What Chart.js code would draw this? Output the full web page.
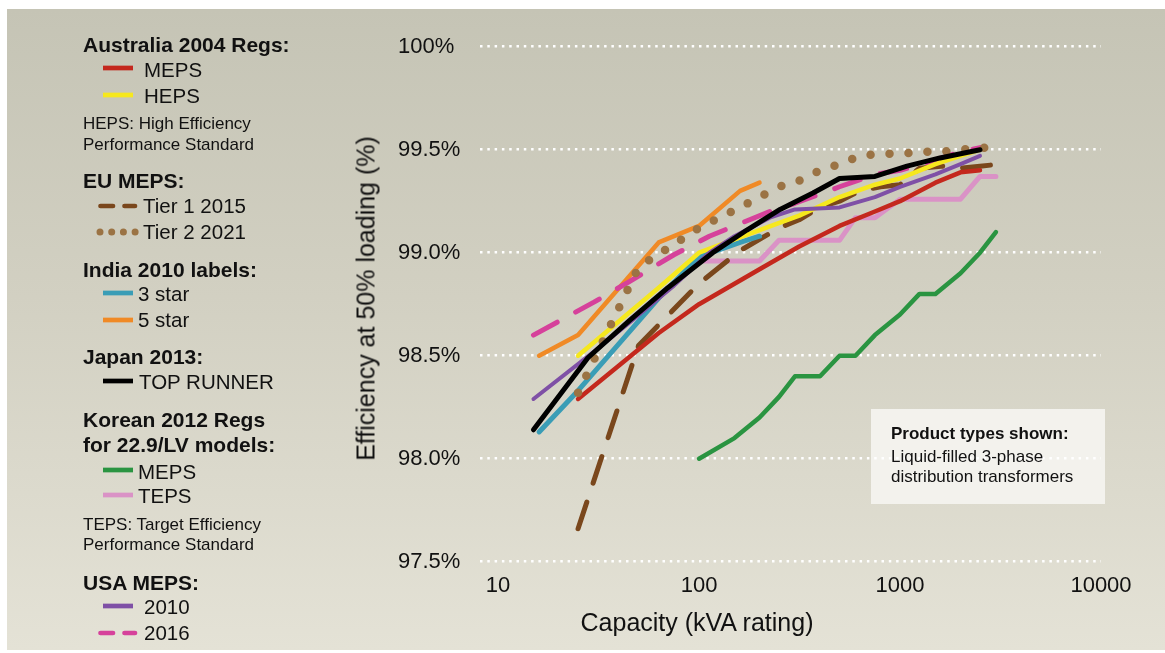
<!DOCTYPE html>
<html>
<head>
<meta charset="utf-8">
<script src="https://cdn.jsdelivr.net/npm/chart.js@4.4.1/dist/chart.umd.min.js"></script>
<style>
  html, body { margin: 0; padding: 0; background: #fff; }
  body { width: 1165px; height: 653px; position: relative; overflow: hidden;
         font-family: "Liberation Sans", Arial, sans-serif; color: #111; }
  #bg { position: absolute; left: 7px; top: 9px; width: 1158px; height: 641px;
        background: linear-gradient(to bottom, #c5c4b5 0%, #d2d0c2 45%, #e4e2d6 100%); }
  #chart { position: absolute; left: 0; top: 0; }
  .t { position: absolute; white-space: nowrap; line-height: 1; }
  .h { font-weight: bold; font-size: 21px; left: 83px; }
  .i { font-size: 20.5px; }
  .n { font-size: 17px; left: 83px; }
  .sw { position: absolute; left: 95px; width: 45px; height: 10px; overflow: visible; }
  #note { position: absolute; left: 871px; top: 409px; width: 234px; height: 95px; background: #f3f2ed; }
  .b { font-size: 17px; left: 891px; }
  #xt { position: absolute; left: 497px; width: 400px; top: 610px; text-align: center; font-size: 25px; line-height: 1; }
  #yt { position: absolute; left: 166px; top: 286px; width: 400px; height: 25px; text-align: center;
        font-size: 25px; line-height: 25px; transform: rotate(-90deg); }
</style>
</head>
<body>
<div id="bg"></div>
<div id="note"></div>
<canvas id="chart" width="1165" height="653"></canvas>
<div id="legend"></div>
<div class="t b" style="top:425px;font-weight:bold;">Product types shown:</div>
<div class="t b" style="top:447.5px;">Liquid-filled 3-phase</div>
<div class="t b" style="top:468px;">distribution transformers</div>
<div id="xt">Capacity (kVA rating)</div>
<div id="yt">Efficiency at 50% loading (%)</div>
<script>
// ratings (kVA) and efficiencies at 50% load (%)
const ausKva = [25, 63, 100, 200, 315, 500, 750, 1000, 1500, 2000, 2500];
const ausMeps = [98.29, 98.61, 98.75, 98.92, 99.03, 99.13, 99.20, 99.25, 99.34, 99.39, 99.40];
const ausHeps = [98.50, 98.83, 99.00, 99.11, 99.18, 99.27, 99.33, 99.36, 99.43, 99.47, 99.50];

const euKva = [25, 50, 100, 160, 250, 315, 400, 500, 630, 800, 1000, 1250, 1600, 2000, 2500, 3150];
const euTier1 = [97.66, 98.55, 98.85, 99.01, 99.12, 99.16, 99.22, 99.25, 99.30, 99.32, 99.33, 99.41, 99.42, 99.41, 99.42, 99.43];
const euTier2 = [98.32, 98.93, 99.12, 99.22, 99.32, 99.35, 99.40, 99.43, 99.47, 99.48, 99.48, 99.49, 99.49, 99.50, 99.51, 99.51];

const indiaKva = [16, 25, 63, 100, 160, 200];
const india3Star = [98.13, 98.33, 98.78, 98.98, 99.05, 99.08];
const india5Star = [98.50, 98.60, 99.05, 99.13, 99.30, 99.34];

const japanKva = [15, 28, 45, 70, 117, 173, 253, 369, 500, 750, 1083, 1581, 2500];
const japanTop = [98.14, 98.49, 98.67, 98.83, 99.00, 99.11, 99.21, 99.29, 99.36, 99.37, 99.42, 99.46, 99.50];

const koreaKva = [100, 150, 200, 250, 300, 400, 500, 600, 750, 1000, 1250, 1500, 2000, 2500, 3000];
const koreaMeps = [98.00, 98.10, 98.20, 98.30, 98.40, 98.40, 98.50, 98.50, 98.60, 98.70, 98.80, 98.80, 98.90, 99.00, 99.10];
const koreaTeps = [98.96, 98.96, 98.96, 99.06, 99.06, 99.06, 99.06, 99.17, 99.17, 99.26, 99.26, 99.26, 99.26, 99.37, 99.37];

const usaKva = [15, 30, 45, 75, 112.5, 150, 225, 300, 500, 750, 1000, 1500, 2000, 2500];
const usa2010 = [98.29, 98.52, 98.66, 98.84, 99.00, 99.08, 99.17, 99.21, 99.22, 99.27, 99.32, 99.38, 99.43, 99.47];
const usa2016 = [98.60, 98.76, 98.86, 98.99, 99.08, 99.13, 99.20, 99.24, 99.32, 99.38, 99.40, 99.45, 99.49, 99.51];

const xTickValues = [10, 100, 1000, 10000];
const xTickLabels = ['10', '100', '1000', '10000'];
const yTickValues = [97.5, 98, 98.5, 99, 99.5, 100];
const yTickLabels = ['97.5%', '98.0%', '98.5%', '99.0%', '99.5%', '100%'];

const C = {
    red: '#c4281d', yellow: '#f6e81e', tier1: '#7a471c', tier2: '#9b7344',
    teal: '#3a9db6', orange: '#f08a26', black: '#000000', green: '#2a9441',
    pink: '#da92c6', purple: '#7f50a6', magenta: '#d6419b'
};

function pts(xs, ys) {
    return xs.map((x, i) => ({ x: x, y: ys[i] }));
}

function line(label, xs, ys, color, width, extra) {
    return Object.assign({
        label: label,
        data: pts(xs, ys),
        borderColor: color,
        backgroundColor: color,
        borderWidth: width,
        borderJoinStyle: 'round',
        borderCapStyle: 'round',
        pointRadius: 0,
        fill: false,
        tension: 0
    }, extra || {});
}

// first dataset is drawn on top
const datasets = [
    line('TOP RUNNER', japanKva, japanTop, C.black, 5),
    line('Tier 2 2021', euKva, euTier2, C.tier2, 8.5, { borderDash: [0, 19] }),
    line('AU MEPS', ausKva, ausMeps, C.red, 4.5),
    line('USA 2010', usaKva, usa2010, C.purple, 4),
    line('AU HEPS', ausKva, ausHeps, C.yellow, 4.5),
    line('USA 2016', usaKva, usa2016, C.magenta, 5, { borderDash: [27, 21] }),
    line('3 star', indiaKva, india3Star, C.teal, 5),
    line('5 star', indiaKva, india5Star, C.orange, 4.5),
    line('Tier 1 2015', euKva, euTier1, C.tier1, 5, { borderDash: [28, 20] }),
    line('TEPS', koreaKva, koreaTeps, C.pink, 5),
    line('KR MEPS', koreaKva, koreaMeps, C.green, 4.5)
];

new Chart(document.getElementById('chart'), {
    type: 'line',
    data: { datasets: datasets },
    options: {
        responsive: false,
        animation: false,
        devicePixelRatio: 1,
        layout: { padding: { left: 398, top: 46.7, right: 64, bottom: 0 } },
        plugins: { legend: { display: false }, tooltip: { enabled: false } },
        scales: {
            x: {
                type: 'logarithmic',
                min: 8.13,
                max: 10000,
                afterBuildTicks: s => { s.ticks = xTickValues.map(v => ({ value: v })); },
                afterFit: s => { s.height = 91.3; },
                ticks: {
                    autoSkip: false,
                    maxRotation: 0,
                    padding: 11,
                    color: '#111',
                    font: { family: '"Liberation Sans", Arial, sans-serif', size: 22 },
                    callback: (v, i) => xTickLabels[i]
                },
                grid: { display: false, drawTicks: false },
                border: { display: false }
            },
            y: {
                min: 97.5,
                max: 100,
                afterBuildTicks: s => { s.ticks = yTickValues.map(v => ({ value: v })); },
                afterFit: s => { s.width = 82; },
                ticks: {
                    crossAlign: 'far',
                    color: '#111',
                    font: { family: '"Liberation Sans", Arial, sans-serif', size: 22 },
                    callback: (v, i) => yTickLabels[i]
                },
                grid: { color: '#ffffff', lineWidth: 2.5, drawTicks: false },
                border: { display: false, dash: [2.5, 4.8] }
            }
        }
    }
});

// legend on the left, built as html
const legendRows = [
    ['h', 'Australia 2004 Regs:', 44],
    ['i', 'MEPS', 70.3, 144, 'solid', C.red, 68.3],
    ['i', 'HEPS', 96.5, 144, 'solid', C.yellow, 94.7],
    ['n', 'HEPS: High Efficiency', 123],
    ['n', 'Performance Standard', 144],
    ['h', 'EU MEPS:', 180.7],
    ['i', 'Tier 1 2015', 206, 143, 'dash', C.tier1, 206],
    ['i', 'Tier 2 2021', 232, 143, 'dot', C.tier2, 231.7],
    ['h', 'India 2010 labels:', 268.8],
    ['i', '3 star', 294.5, 138, 'solid', C.teal, 293.3],
    ['i', '5 star', 320, 138, 'solid', C.orange, 320],
    ['h', 'Japan 2013:', 356.7],
    ['i', 'TOP RUNNER', 381.7, 139, 'solid', C.black, 380.7],
    ['h', 'Korean 2012 Regs', 419.7],
    ['h', 'for 22.9/LV models:', 444],
    ['i', 'MEPS', 471.7, 138, 'solid', C.green, 470],
    ['i', 'TEPS', 496, 138, 'solid', C.pink, 495],
    ['n', 'TEPS: Target Efficiency', 524.5],
    ['n', 'Performance Standard', 544],
    ['h', 'USA MEPS:', 582],
    ['i', '2010', 606.7, 144, 'solid', C.purple, 606],
    ['i', '2016', 633, 144, 'dash', C.magenta, 632.7]
];
const sizes = { h: 21, i: 20.5, n: 17 };
const legend = document.getElementById('legend');
legendRows.forEach(r => {
    const [cls, text, cy, tx, kind, color, ly] = r;
    const d = document.createElement('div');
    d.className = 't ' + cls;
    d.textContent = text;
    d.style.top = (cy - 0.49 * sizes[cls]) + 'px';
    if (tx) d.style.left = tx + 'px';
    legend.appendChild(d);
    if (!kind) return;
    const ns = 'http://www.w3.org/2000/svg';
    const svg = document.createElementNS(ns, 'svg');
    svg.setAttribute('class', 'sw');
    svg.setAttribute('width', 45);
    svg.setAttribute('height', 10);
    svg.style.top = (ly - 5) + 'px';
    const ln = document.createElementNS(ns, 'line');
    ln.setAttribute('y1', 5);
    ln.setAttribute('y2', 5);
    ln.setAttribute('stroke', color);
    if (kind === 'solid') {
        ln.setAttribute('x1', 8); ln.setAttribute('x2', 38);
        ln.setAttribute('stroke-width', 4.7);
    } else if (kind === 'dash') {
        ln.setAttribute('x1', 5.5); ln.setAttribute('x2', 40);
        ln.setAttribute('stroke-width', 4.7);
        ln.setAttribute('stroke-linecap', 'round');
        ln.setAttribute('stroke-dasharray', '12.5 11.5');
    } else {
        ln.setAttribute('x1', 5); ln.setAttribute('x2', 41);
        ln.setAttribute('stroke-width', 7);
        ln.setAttribute('stroke-linecap', 'round');
        ln.setAttribute('stroke-dasharray', '0 11.7');
    }
    svg.appendChild(ln);
    legend.appendChild(svg);
});
</script>
</body>
</html>
